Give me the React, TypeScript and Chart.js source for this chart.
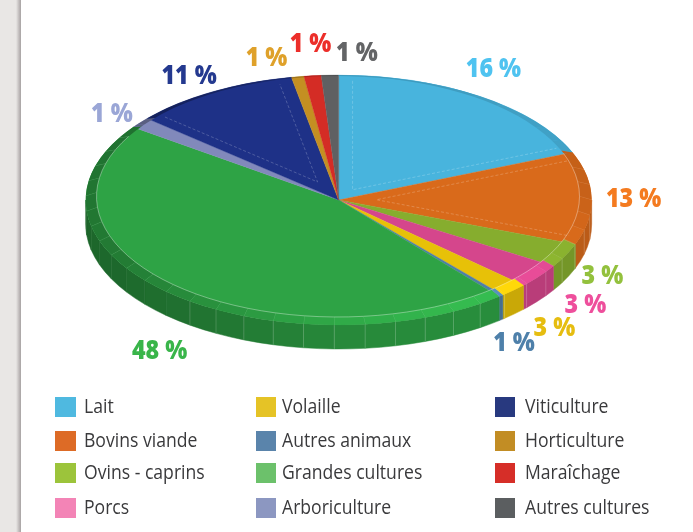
import React, { useEffect, useRef } from "react";
import { Chart, registerables } from "chart.js";

Chart.register(...registerables);

const categories = ["Lait", "Bovins viande", "Ovins - caprins", "Porcs", "Volaille", "Autres animaux", "Grandes cultures", "Arboriculture", "Viticulture", "Horticulture", "Maraîchage", "Autres cultures"];
// Share of the drawn disc that each slice takes
const sliceShares = [18.8, 12.0, 3.1, 3.1, 1.8, 0.3, 45.9, 1.4, 10.7, 0.8, 1.1, 1.1];
// Percentages printed next to the slices
const printedPercents = [16, 13, 3, 3, 3, 1, 48, 1, 11, 1, 1, 1];
const sliceColors = ["#48B4DD", "#D96A1B", "#86AD2E", "#D5468C", "#E7C108", "#4F7FA6", "#2EA345", "#8189BB", "#1E3187", "#C48F22", "#D42C25", "#5F6062"];
const labelColors = ["#4FC3F0", "#F47B20", "#93C13D", "#EE4F9C", "#E6BD10", "#4E80AA", "#39B54A", "#9AA6D6", "#24398F", "#DFA12A", "#EC2E2A", "#636466"];
const legendColors = ["#4FB9E0", "#DD6B26", "#9CC43B", "#F384B6", "#E5C326", "#5A84AB", "#6CC16B", "#8C97C1", "#28397F", "#C28D24", "#D62E28", "#5B5E60"];

// Hand-placed label offsets from the rim point of each slice
const labelNudges = [[14, -27], [42, 1], [37, 21], [46, 29], [41, 38], [13, 47], [-6, 60], [-28, -8], [-23, -15], [-31, -18], [-2, -31], [27, -22]];

const WIDTH = 693;
const HEIGHT = 532;
const CX = 338.67;
const RX = 253;
const RY = 125;
const TOP_Y = 200;
const DEPTH = 24;
const DEG = Math.PI / 180;

function shade(hex: string, f: number) {
  const n = parseInt(hex.slice(1), 16);
  const c = [(n >> 16) & 255, (n >> 8) & 255, n & 255].map((v) => Math.min(255, Math.round(v * f)));
  return `rgb(${c[0]},${c[1]},${c[2]})`;
}
function lerpTable(table: number[][], x: number) {
  if (x <= table[0][0]) return table[0][1];
  for (let i = 1; i < table.length; i++) {
    if (x <= table[i][0]) {
      const [x0, y0] = table[i - 1];
      const [x1, y1] = table[i];
      return y0 + ((y1 - y0) * (x - x0)) / (x1 - x0);
    }
  }
  return table[table.length - 1][1];
}
const sideLight = [[0, 0.86], [50, 0.87], [90, 0.84], [125, 0.7], [150, 0.64], [180, 0.62]];
const rimLight = [[-90, 0.85], [0, 0.92], [30, 1.05], [55, 1.16], [90, 1.04], [120, 0.9], [150, 0.76], [180, 0.72], [230, 0.68], [270, 0.85]];

function segments(a: number, b: number, stepDeg: number) {
  const out: number[][] = [];
  const step = stepDeg * DEG;
  let s = Math.ceil(a / step) * step;
  let prev = a;
  while (s < b - 1e-6) {
    if (s > prev + 1e-6) out.push([prev, s]);
    prev = s;
    s += step;
  }
  out.push([prev, b]);
  return out;
}

const pie3d = {
  id: "pie3d",
  beforeDatasetsDraw(chart: any) {
    const ctx = chart.ctx;
    const meta = chart.getDatasetMeta(0);
    meta.data.forEach((el: any, i: number) => {
      const a = Math.max(el.startAngle, 0);
      const b = Math.min(el.endAngle, Math.PI);
      if (b <= a) return;
      segments(a, b, 7).forEach(([s, e]) => {
        const color = shade(sliceColors[i], lerpTable(sideLight, ((s + e) / 2) / DEG));
        ctx.beginPath();
        ctx.ellipse(CX, TOP_Y, RX, RY, 0, s, e);
        ctx.ellipse(CX, TOP_Y + DEPTH, RX, RY, 0, e, s, true);
        ctx.closePath();
        ctx.fillStyle = color;
        ctx.strokeStyle = color;
        ctx.lineWidth = 0.5;
        ctx.fill();
        ctx.stroke();
      });
      segments(a, b, 7).forEach(([, e]) => {
        if (e / DEG < 132 && e < el.endAngle - 1e-6) {
          const x = CX + RX * Math.cos(e);
          const y = TOP_Y + RY * Math.sin(e);
          ctx.beginPath();
          ctx.moveTo(x, y);
          ctx.lineTo(x, y + DEPTH);
          ctx.strokeStyle = "rgba(255,255,255,0.22)";
          ctx.lineWidth = 0.8;
          ctx.stroke();
        }
      });
    });
  },
  beforeDatasetDraw(chart: any) {
    const ctx = chart.ctx;
    const el = chart.getDatasetMeta(0).data[0];
    ctx.save();
    ctx.translate(el.x, TOP_Y);
    ctx.scale(1, RY / RX);
    ctx.translate(-el.x, -el.y);
  },
  afterDatasetDraw(chart: any) {
    chart.ctx.restore();
  },
  afterDatasetsDraw(chart: any) {
    const ctx = chart.ctx;
    const meta = chart.getDatasetMeta(0);
    const inCX = 338;
    const inCY = 196.5;
    const inRX = 241.5;
    const inRY = 120.5;
    meta.data.forEach((el: any, i: number) => {
      segments(el.startAngle, el.endAngle, 7).forEach(([s, e]) => {
        const color = shade(sliceColors[i], lerpTable(rimLight, ((s + e) / 2) / DEG));
        ctx.beginPath();
        ctx.ellipse(CX, TOP_Y, RX, RY, 0, s, e);
        ctx.ellipse(inCX, inCY, inRX, inRY, 0, e, s, true);
        ctx.closePath();
        ctx.fillStyle = color;
        ctx.fill();
        const deg = e / DEG;
        if (deg > -20 && deg < 215) {
          ctx.beginPath();
          ctx.moveTo(inCX + inRX * Math.cos(e), inCY + inRY * Math.sin(e));
          ctx.lineTo(CX + RX * Math.cos(e), TOP_Y + RY * Math.sin(e));
          ctx.strokeStyle = "rgba(255,255,255,0.25)";
          ctx.lineWidth = 0.7;
          ctx.stroke();
          ctx.beginPath();
          ctx.ellipse(inCX, inCY, inRX, inRY, 0, s, e);
          ctx.strokeStyle = "rgba(255,255,255,0.45)";
          ctx.lineWidth = 0.8;
          ctx.stroke();
        }
      });
      // dashed inset outline of the larger slices
      const span = el.endAngle - el.startAngle;
      if (span > 20 * DEG && span < 120 * DEG) {
        const d = 0.055;
        const r = 0.955;
        const mid = (el.startAngle + el.endAngle) / 2;
        const apex = d / Math.sin(span / 2);
        const off = Math.asin(d / r);
        const p = (u: number, v: number) => [CX + RX * u, TOP_Y + RY * v];
        const A = p(apex * Math.cos(mid), apex * Math.sin(mid));
        const S = p(r * Math.cos(el.startAngle + off), r * Math.sin(el.startAngle + off));
        const E = p(r * Math.cos(el.endAngle - off), r * Math.sin(el.endAngle - off));
        ctx.save();
        ctx.setLineDash([3, 2]);
        ctx.strokeStyle = "rgba(255,255,255,0.3)";
        ctx.lineWidth = 0.7;
        ctx.beginPath();
        ctx.moveTo(S[0], S[1]);
        ctx.lineTo(A[0], A[1]);
        ctx.lineTo(E[0], E[1]);
        ctx.stroke();
        ctx.restore();
      }
    });
  },
  afterDraw(chart: any) {
    const ctx = chart.ctx;
    const meta = chart.getDatasetMeta(0);
    ctx.font = '800 27px "Open Sans"';
    ctx.textAlign = "center";
    ctx.textBaseline = "middle";
    meta.data.forEach((el: any, i: number) => {
      const mid = (el.startAngle + el.endAngle) / 2;
      const x = CX + RX * Math.cos(mid) + labelNudges[i][0];
      const y = TOP_Y + RY * Math.sin(mid) + labelNudges[i][1];
      ctx.save();
      ctx.translate(x, y);
      ctx.scale(0.86, 1);
      ctx.fillStyle = labelColors[i];
      ctx.fillText(`${printedPercents[i]} %`, 0, 0);
      ctx.restore();
    });
  },
};

const swatchColumns = [55, 255.5, 494.5];
const textColumns = [84, 282, 525];
const legendRows = [407, 441, 473, 508];

export default function App() {
  const ref = useRef<HTMLCanvasElement>(null);
  useEffect(() => {
    const chart = new Chart(ref.current as HTMLCanvasElement, {
      type: "pie",
      data: {
        labels: categories,
        datasets: [{
          data: sliceShares,
          backgroundColor: sliceColors,
          borderColor: sliceColors,
          borderWidth: 0.5,
          clip: false,
        } as any],
      },
      options: {
        responsive: false,
        animation: false,
        events: [],
        layout: { padding: { left: CX - RX, right: WIDTH - CX - RX, top: 13, bottom: 13 } },
        plugins: { legend: { display: false }, tooltip: { enabled: false } },
      },
      plugins: [pie3d as any],
    });
    return () => chart.destroy();
  }, []);
  return (
    <div style={{ position: "fixed", left: 0, top: 0, width: WIDTH, height: HEIGHT, background: "#fff", overflow: "hidden" }}>
      <div style={{ position: "absolute", left: 0, top: 0, width: 21, height: HEIGHT, background: "linear-gradient(to right,#E9E7E5 0,#E9E7E5 16px,#B3AEAE 20px,#A8A4A4 21px)" }} />
      <canvas ref={ref} width={WIDTH} height={HEIGHT} style={{ position: "absolute", left: 0, top: 0, display: "block" }} />
      {categories.map((name, i) => {
        const col = Math.floor(i / 4);
        const row = i % 4;
        const y = legendRows[row];
        return (
          <React.Fragment key={name}>
            <span style={{ position: "absolute", left: swatchColumns[col], top: y - 10, width: 20.5, height: 20, background: legendColors[i] }} />
            <span style={{ position: "absolute", left: textColumns[col], top: y - 15, whiteSpace: "nowrap", font: '20px/28px "Open Sans"', color: "#3A3A3C", transform: "scaleX(0.88)", transformOrigin: "left center" }}>{name}</span>
          </React.Fragment>
        );
      })}
    </div>
  );
}
